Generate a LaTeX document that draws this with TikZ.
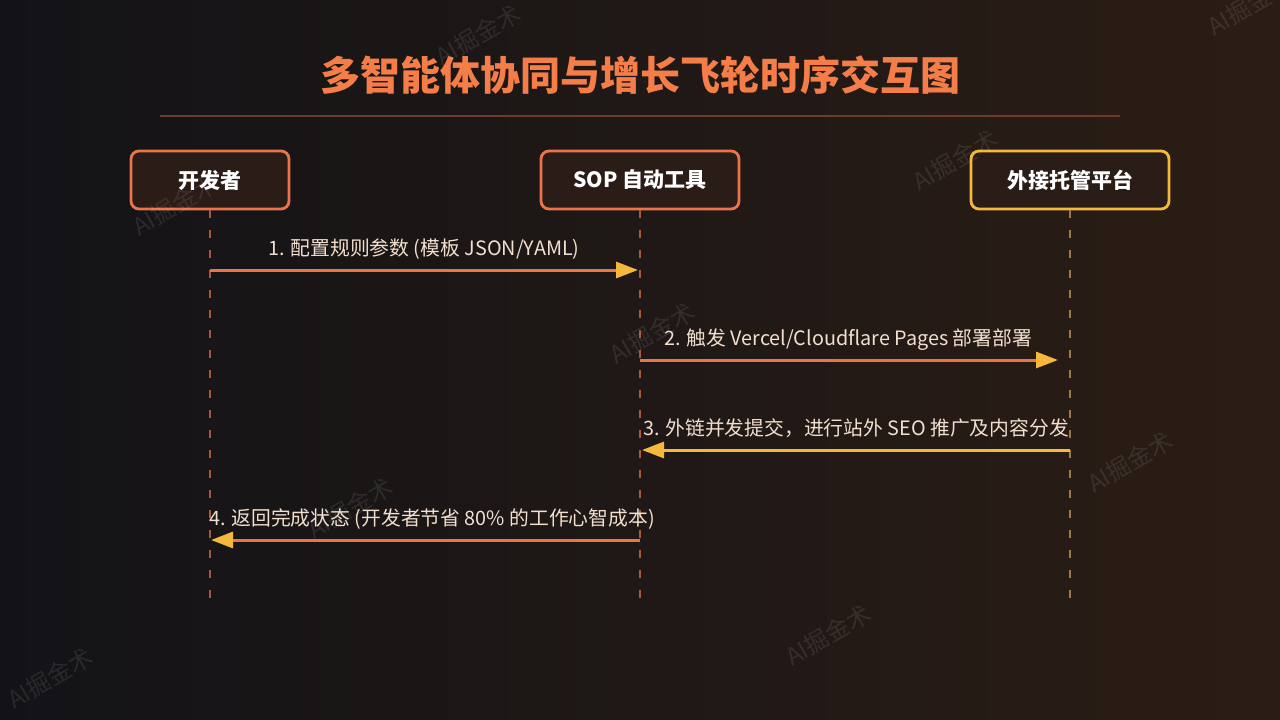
\documentclass[tikz,border=0pt]{standalone}
\usepackage{fontspec}
\setmainfont{Noto Sans CJK SC}
\usetikzlibrary{arrows.meta}
\definecolor{bgL}{HTML}{131317}
\definecolor{bgR}{HTML}{2B1D15}
\definecolor{boxfill}{HTML}{2A1C17}
\definecolor{orng}{HTML}{EC744A}
\definecolor{gold}{HTML}{F4B83C}
\definecolor{titlec}{HTML}{F57D48}
\definecolor{sepc}{HTML}{6E3B2A}
\definecolor{lifeO}{HTML}{A85A3C}
\definecolor{lifeG}{HTML}{9C7A48}
\definecolor{labelc}{HTML}{F2DFCF}
\tikzset{
  actor/.style={draw, line width=2.8pt, rounded corners=8pt, fill=boxfill,
    minimum width=158pt, minimum height=58pt, text=white,
    font=\fontsize{21}{25}\selectfont\bfseries},
  actorwide/.style={actor, minimum width=198pt},
  lifeline/.style={line width=2pt, dash pattern=on 8pt off 12pt},
  msg/.style={line width=3pt, -{Triangle[length=22pt,width=16pt,color=gold]}},
  msglabel/.style={text=labelc, font=\fontsize{19.8}{24}\selectfont, inner sep=0pt, anchor=base},
  wm/.style={text=white, opacity=0.09, rotate=30, font=\fontsize{24}{28}\selectfont}
}
\begin{document}
\begin{tikzpicture}[x=1pt,y=-1pt]
\useasboundingbox (0,0) rectangle (1280,720);
\shade[left color=bgL, right color=bgR] (0,0) rectangle (1280,720);

\node[text=titlec, font=\fontsize{40}{48}\selectfont\bfseries] (title) at (640,75) {多智能体协同与增长飞轮时序交互图};
\draw[sepc, line width=1.5pt] (160,116) -- (1120,116);

\node[actor, draw=orng] (dev) at (210,180) {开发者};
\node[actorwide, draw=orng] (sop) at (640,180) {SOP 自动工具};
\node[actorwide, draw=gold] (host) at (1070,180) {外接托管平台};

\coordinate (devE) at (210,600);
\coordinate (sopE) at (640,600);
\coordinate (hostE) at (1070,600);
\draw[lifeline, lifeO] (dev.south) -- (devE);
\draw[lifeline, lifeO] (sop.south) -- (sopE);
\draw[lifeline, lifeG] (host.south) -- (hostE);

\coordinate (d1) at (210,270); \coordinate (s1) at (640,270);
\coordinate (s2) at (640,360); \coordinate (h2) at (1070,360);
\coordinate (h3) at (1070,450); \coordinate (s3) at (640,450);
\coordinate (s4) at (640,540); \coordinate (d4) at (210,540);

\draw[msg, orng, shorten >=2pt] (d1) -- (s1);
\draw[msg, orng, shorten >=12pt] (s2) -- (h2);
\draw[msg, gold, shorten >=2pt] (h3) -- (s3);
\draw[msg, orng, shorten >=1pt] (s4) -- (d4);

\node[msglabel] (l1) at (424,255) {1. 配置规则参数 (模板 JSON/YAML)};
\node[msglabel] (l2) at (848,345) {2. 触发 Vercel/Cloudflare Pages 部署部署};
\node[msglabel] (l3) at (856,435) {3. 外链并发提交，进行站外 SEO 推广及内容分发};
\node[msglabel] (l4) at (432,525) {4. 返回完成状态 (开发者节省 80\% 的工作心智成本)};

\node[wm] (w1) at (478,35) {AI掘金术};
\node[wm] (w2) at (1250,5) {AI掘金术};
\node[wm] (w3) at (175,205) {AI掘金术};
\node[wm] (w4) at (955,160) {AI掘金术};
\node[wm] (w5) at (652,333) {AI掘金术};
\node[wm] (w6) at (350,508) {AI掘金术};
\node[wm] (w7) at (1130,462) {AI掘金术};
\node[wm] (w8) at (828,635) {AI掘金术};
\node[wm] (w9) at (50,678) {AI掘金术};
\end{tikzpicture}
\end{document}
